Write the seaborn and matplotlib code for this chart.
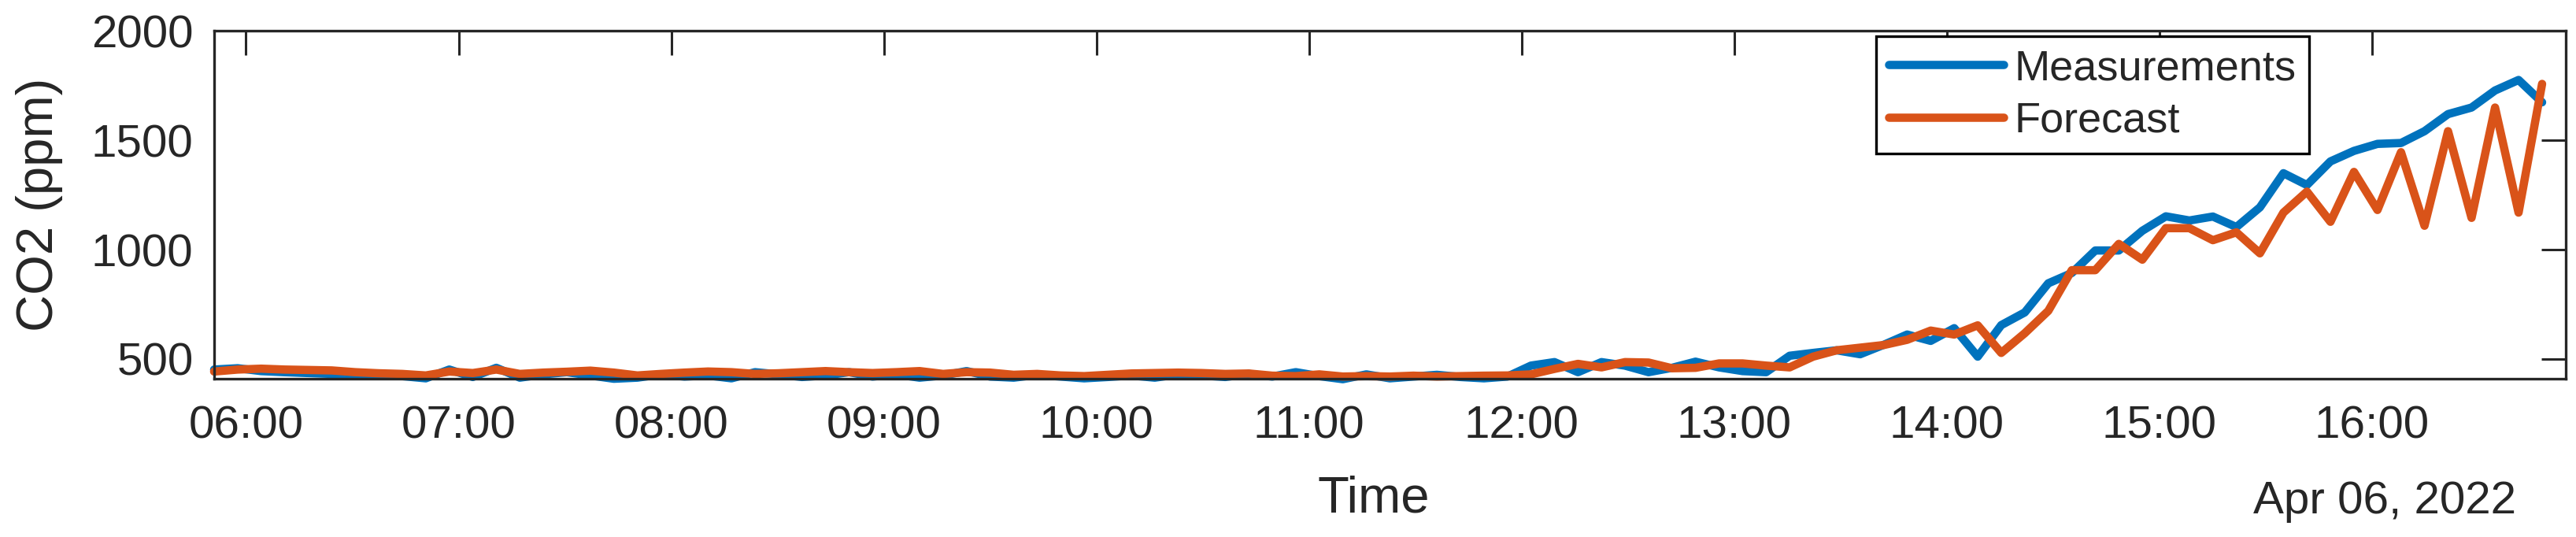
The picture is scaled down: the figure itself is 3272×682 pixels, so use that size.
import matplotlib
matplotlib.use('Agg')
import numpy as np
import pandas as pd
import matplotlib.pyplot as plt
import matplotlib.dates as mdates
import seaborn as sns

# =====================================================
#  DATOS
# =====================================================
t_start = "2022-04-06 05:51"
t_end = "2022-04-06 16:48"

measurements = [
    452, 458, 445, 440, 436, 432, 428, 425, 422, 412,
    452, 418, 460, 415, 430, 440, 425, 410, 415, 430,
    420, 425, 412, 440, 430, 418, 425, 440, 420, 430,
    415, 425, 445, 420, 415, 428, 420, 412, 418, 425,
    415, 430, 425, 418, 432, 420, 440, 422, 408, 430,
    412, 420, 428, 418, 412, 420, 470, 486, 440, 486,
    470, 440, 460, 488, 462, 445, 440, 515, 528, 540,
    522, 565, 612, 583, 641, 511, 655, 713, 846, 893,
    996, 996, 1086, 1152, 1133, 1151, 1103, 1193, 1349, 1295,
    1403, 1451, 1483, 1487, 1541, 1619, 1649, 1727, 1775, 1673,
]

forecast = [
    443, 452, 456, 452, 450, 448, 440, 435, 432, 425,
    443, 436, 452, 432, 438, 442, 447, 438, 425, 432,
    438, 443, 440, 432, 435, 440, 445, 440, 436, 440,
    445, 432, 440, 438, 428, 432, 425, 422, 428, 434,
    436, 438, 436, 432, 434, 424, 422, 430, 420, 422,
    420, 424, 420, 422, 424, 425, 430, 455, 478, 462,
    486, 484, 458, 460, 480, 480, 470, 462, 511, 540,
    552, 564, 588, 630, 612, 654, 528, 618, 720, 906,
    906, 1026, 954, 1098, 1098, 1043, 1079, 983, 1169, 1265,
    1127, 1355, 1181, 1445, 1109, 1541, 1145, 1649, 1169, 1757,
]

series_names = ["Measurements", "Forecast"]
colors = ["#0072BD", "#D95319"]
date_label = "Apr 06, 2022"

times = pd.date_range(t_start, t_end, periods=len(measurements))
df = pd.DataFrame({
    "time": np.concatenate([times, times]),
    "co2": measurements + forecast,
    "series": [series_names[0]] * len(times) + [series_names[1]] * len(times),
})

# =====================================================
#  GRAFICO
# =====================================================
sns.set_style("white")
plt.rcParams['font.family'] = ['Liberation Sans', 'DejaVu Sans']
dark = "#262626"

fig = plt.figure(figsize=(32.73, 6.82), dpi=100)
ax = fig.add_axes([0.0831, 0.2947, 0.9126, 0.6481])

sns.lineplot(data=df, x="time", y="co2", hue="series", hue_order=series_names,
             palette=colors, linewidth=7.6, ax=ax, legend=True)
for ln in ax.get_lines():
    ln.set_solid_joinstyle("round")
    ln.set_solid_capstyle("round")
    ln.set_clip_on(False)

ax.set_xlim(times[0], pd.Timestamp("2022-04-06 16:54:40"))
ax.set_ylim(410, 2000)
ax.set_yticks([500, 1000, 1500, 2000])
ax.xaxis.set_major_locator(mdates.HourLocator())
ax.xaxis.set_major_formatter(mdates.DateFormatter("%H:%M"))

ax.tick_params(axis="both", direction="in", length=22, width=2.2, colors=dark,
               labelsize=42, top=True, right=True)
ax.tick_params(axis="x", pad=24)
ax.tick_params(axis="y", pad=19)
for sp in ax.spines.values():
    sp.set_visible(True)
    sp.set_color(dark)
    sp.set_linewidth(2.4)

ax.set_xlabel("Time", fontsize=47, color=dark)
ax.xaxis.label.set_va("center")
ax.xaxis.set_label_coords(0.493, -0.344)
ax.set_ylabel("CO2 (ppm)", fontsize=47, color=dark)
ax.yaxis.label.set_va("center")
ax.yaxis.set_label_coords(-0.0743, 0.5)

fig.text(0.9255, 0.066, date_label, fontsize=42, color=dark, ha="center", va="center")

leg = ax.legend(loc="upper right", bbox_to_anchor=(0.8909, 0.984), fontsize=39,
                frameon=True, fancybox=False, framealpha=1, edgecolor="#000000",
                handlelength=2.7, handletextpad=0.25, borderpad=0.3,
                labelspacing=0.3, borderaxespad=0)
leg.get_frame().set_linewidth(2.4)
for h in leg.get_lines():
    h.set_linewidth(7.6)

fig.savefig("out.png", dpi=100)
